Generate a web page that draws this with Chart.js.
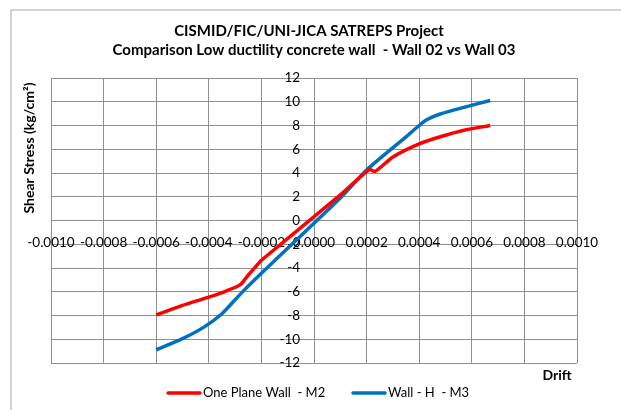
<!DOCTYPE html>
<html>
<head>
<meta charset="utf-8">
<script src="https://cdn.jsdelivr.net/npm/chart.js@4.4.1/dist/chart.umd.min.js"></script>
<style>
  html, body { margin: 0; padding: 0; background: #ffffff; }
  #c { display: block; }
</style>
</head>
<body>
<canvas id="c" width="621" height="410"></canvas>
<script>
// Chart text
const titleLines = [
  'CISMID/FIC/UNI-JICA SATREPS Project',
  'Comparison Low ductility concrete wall  - Wall 02 vs Wall 03'
];
const yAxisTitle = 'Shear Stress (kg/cm\u00B2)';
const xAxisTitle = 'Drift';
const seriesNames = ['One Plane Wall  - M2', 'Wall - H  - M3'];

// Axis ranges and tick steps
const driftTicks = { min: -0.0010, max: 0.0010, step: 0.0002 };
const stressTicks = { min: -12, max: 12, step: 2 };

// One Plane Wall - M2 envelope (drift, shear stress kg/cm2)
const m2Drift  = [-0.00060, -0.00050, -0.00040, -0.00033, -0.00028, -0.00025, -0.00022, -0.00020, 0.00010, 0.00021, 0.000232, 0.00030, 0.00040, 0.00048, 0.00057, 0.00067];
const m2Stress = [-7.95, -7.15, -6.45, -5.90, -5.40, -4.60, -3.85, -3.35, 2.15, 4.30, 4.12, 5.35, 6.45, 7.05, 7.60, 8.00];

// Wall - H - M3 envelope (drift, shear stress kg/cm2)
const m3Drift  = [-0.00060, -0.00050, -0.00042, -0.00035, -0.00028, -0.00020, 0.00010, 0.00020, 0.00029, 0.00035, 0.00040, 0.00043, 0.00048, 0.00057, 0.00067];
const m3Stress = [-10.90, -9.95, -9.00, -7.85, -6.20, -4.45, 1.90, 4.25, 5.95, 7.05, 8.00, 8.50, 8.97, 9.53, 10.10];

const seriesColors = ['#ff0000', '#0070c0'];

const FONT = 'Lato, "Open Sans", sans-serif';
const GRID = '#8f8f8f';

// stress labels sit a little to the left of the zero-drift line
const stressLabelDrift = -0.000053;

function pairs(xs, ys) {
  return xs.map((x, i) => ({ x: x, y: ys[i] }));
}

// Frame, titles and legend drawn around the plot area
const decorations = {
  id: 'decorations',
  afterDraw(chart) {
    const ctx = chart.ctx;
    ctx.save();

    // outer chart frame
    ctx.strokeStyle = '#c4c4c4';
    ctx.lineWidth = 1.5;
    ctx.beginPath();
    ctx.moveTo(11, 410);
    ctx.lineTo(11, 10);
    ctx.lineTo(621, 10);
    ctx.stroke();

    ctx.fillStyle = '#000000';
    ctx.textAlign = 'center';
    ctx.textBaseline = 'middle';

    // chart title
    ctx.font = 'bold 15px ' + FONT;
    ctx.fillText(titleLines[0], 309, 31);
    ctx.fillText(titleLines[1], 314, 50);

    // axis titles
    ctx.font = 'bold 14px ' + FONT;
    ctx.fillText(xAxisTitle, 557, 375);
    ctx.save();
    ctx.translate(29, 148);
    ctx.rotate(-Math.PI / 2);
    ctx.fillText(yAxisTitle, 0, 0);
    ctx.restore();

    // legend
    ctx.font = '13px ' + FONT;
    ctx.textAlign = 'left';
    const items = [
      { x: 168, text: chart.data.datasets[0].label, color: chart.data.datasets[0].borderColor },
      { x: 353, text: chart.data.datasets[1].label, color: chart.data.datasets[1].borderColor }
    ];
    items.forEach(it => {
      ctx.strokeStyle = it.color;
      ctx.lineWidth = 3.5;
      ctx.lineCap = 'round';
      ctx.beginPath();
      ctx.moveTo(it.x, 393);
      ctx.lineTo(it.x + 32, 393);
      ctx.stroke();
      ctx.fillText(it.text, it.x + 35, 393);
    });

    ctx.restore();
  }
};

new Chart(document.getElementById('c'), {
  type: 'line',
  data: {
    datasets: [
      {
        label: seriesNames[0],
        data: pairs(m2Drift, m2Stress),
        borderColor: seriesColors[0],
        backgroundColor: seriesColors[0],
        borderWidth: 3.5,
        pointRadius: 0,
        tension: 0.2,
        fill: false
      },
      {
        label: seriesNames[1],
        data: pairs(m3Drift, m3Stress),
        borderColor: seriesColors[1],
        backgroundColor: seriesColors[1],
        borderWidth: 3.5,
        pointRadius: 0,
        tension: 0.2,
        fill: false
      }
    ]
  },
  options: {
    responsive: false,
    animation: false,
    events: [],
    layout: { padding: { left: 51, right: 44, top: 78, bottom: 47 } },
    plugins: {
      legend: { display: false },
      title: { display: false },
      tooltip: { enabled: false }
    },
    scales: {
      x: {
        type: 'linear',
        position: { y: 0 },
        min: driftTicks.min,
        max: driftTicks.max,
        border: { display: false },
        grid: { color: GRID, lineWidth: 1, drawTicks: false },
        ticks: {
          stepSize: driftTicks.step,
          padding: 14,
          color: '#000000',
          font: { family: FONT, size: 13.5 },
          maxRotation: 0,
          autoSkip: false,
          callback: (v) => (Math.abs(v) < 1e-12 ? 0 : v).toFixed(4)
        }
      },
      y: {
        type: 'linear',
        position: { x: stressLabelDrift },
        min: stressTicks.min,
        max: stressTicks.max,
        border: { display: false },
        grid: { color: GRID, lineWidth: 1, drawTicks: false },
        ticks: {
          stepSize: stressTicks.step,
          color: '#000000',
          font: { family: FONT, size: 13.5 },
          autoSkip: false,
          callback: (v) => String(v)
        }
      }
    }
  },
  plugins: [decorations]
});
</script>
</body>
</html>
